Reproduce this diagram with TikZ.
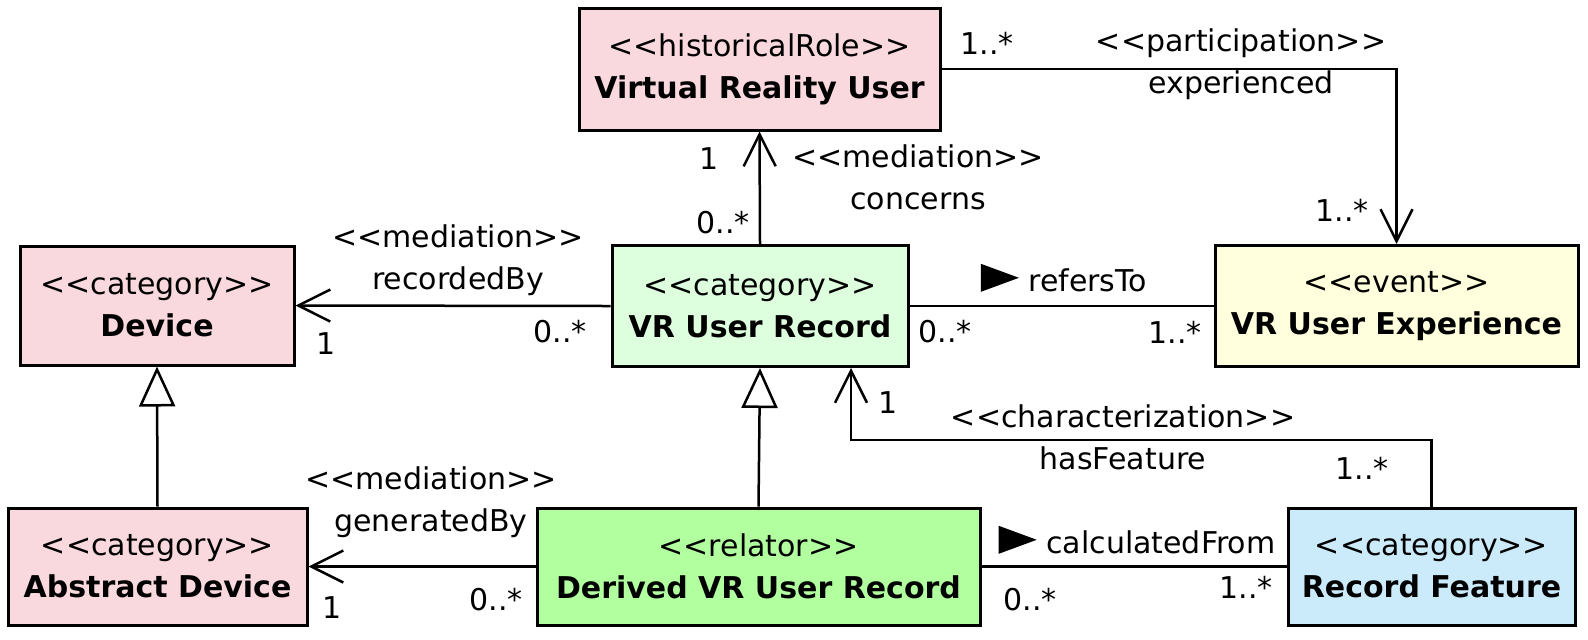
\documentclass[tikz,border=0pt]{standalone}
\usepackage{fontspec}
\setmainfont{DejaVu Sans}
\usetikzlibrary{arrows.meta}
\definecolor{rolepink}{RGB}{249,217,221}
\definecolor{recgreen}{RGB}{222,255,222}
\definecolor{relgreen}{RGB}{178,255,160}
\definecolor{evyellow}{RGB}{255,255,221}
\definecolor{featblue}{RGB}{204,235,250}
\newcommand{\dirtri}{\tikz[baseline=0pt]\fill (0pt,0pt) -- (0pt,14pt) -- (19pt,7pt) -- cycle;}
\newcommand{\stereo}[1]{<{}<#1>{}>}

\begin{document}
\begin{tikzpicture}[
  x=0.5pt, y=-0.5pt,
  cls/.style={draw=black, line width=1.5pt, align=center, inner sep=0pt,
    font=\fontsize{15}{21}\selectfont},
  lab/.style={align=center, inner sep=0pt, font=\fontsize{15}{21}\selectfont},
  assoc/.style={draw=black, line width=1.25pt},
  navarr/.style={assoc, -{Straight Barb[length=16pt, width=16pt, line width=1.25pt]}},
  genarr/.style={assoc, -{Triangle[open, length=20pt, width=18pt, line width=1.25pt, fill=white]}}
]
\useasboundingbox (0,0) rectangle (1588,639);
\node[cls, fill=rolepink, minimum width=180.5pt, minimum height=61pt] (vru) at (759.5,69)
  {\stereo{historicalRole}\\\textbf{Virtual Reality User}};
\node[cls, fill=rolepink, minimum width=137pt, minimum height=59.5pt] (dev) at (157,305.5)
  {\stereo{category}\\\textbf{Device}};
\node[cls, fill=recgreen, minimum width=148pt, minimum height=60.5pt] (vrr) at (760,306)
  {\stereo{category}\\\textbf{VR User Record}};
\node[cls, fill=evyellow, minimum width=181.5pt, minimum height=60.5pt] (vre) at (1396.5,306)
  {\stereo{event}\\\textbf{VR User Experience}};
\node[cls, fill=rolepink, minimum width=149.5pt, minimum height=58.5pt] (ad) at (157.5,566.5)
  {\stereo{category}\\\textbf{Abstract Device}};
\node[cls, fill=relgreen, minimum width=221.5pt, minimum height=58.5pt] (dvr) at (758.5,566.5)
  {\stereo{relator}\\\textbf{Derived VR User Record}};
\node[cls, fill=featblue, minimum width=143.5pt, minimum height=58.5pt] (rf) at (1431.5,566.5)
  {\stereo{category}\\\textbf{Record Feature}};
\coordinate (charbend) at (851,440);

\draw[navarr] (vru.east) -| (vre.north);
\draw[navarr] (vrr.north) -- (vru.south);
\draw[navarr] (vrr.west) -- (dev.east);
\draw[assoc] (vrr.east) -- (vre.west);
\draw[genarr] (ad.north) -- (dev.south);
\draw[genarr] (dvr.north) -- (vrr.south);
\draw[navarr] (rf.north) |- (charbend) -- (charbend |- vrr.south);
\draw[navarr] (dvr.west) -- (ad.east);
\draw[assoc] (dvr.east) -- (rf.west);

\node[lab] (partsrc) at (987,43) {1..*};
\node[lab] (partlab) at (1241,64) {\stereo{participation}\\experienced};
\node[lab] (parttgt) at (1342,210) {1..*};
\node[lab] (consrc) at (723,223) {0..*};
\node[lab] (contgt) at (709,159) {1};
\node[lab] (conlab) at (918,177) {\stereo{mediation}\\concerns};
\node[lab] (reclab) at (458,260) {\stereo{mediation}\\recordedBy};
\node[lab] (rectgt) at (326,344) {1};
\node[lab] (recsrc) at (560,332) {0..*};
\node[lab] (reflab) at (1064,278) {\dirtri\ refersTo};
\node[lab] (refsrc) at (945,332) {0..*};
\node[lab] (reftgt) at (1175,332) {1..*};
\node[lab] (chartgt) at (888,403) {1};
\node[lab] (charlab) at (1123,437) {\stereo{characterization}\\hasFeature};
\node[lab] (charsrc) at (1362,468) {1..*};
\node[lab] (genlab) at (431,502) {\stereo{mediation}\\generatedBy};
\node[lab] (gentgt) at (332,608) {1};
\node[lab] (gensrc) at (496,600) {0..*};
\node[lab] (calclab) at (1137,540) {\dirtri\ calculatedFrom};
\node[lab] (calcsrc) at (1030,600) {0..*};
\node[lab] (calctgt) at (1246,587) {1..*};
\end{tikzpicture}
\end{document}
